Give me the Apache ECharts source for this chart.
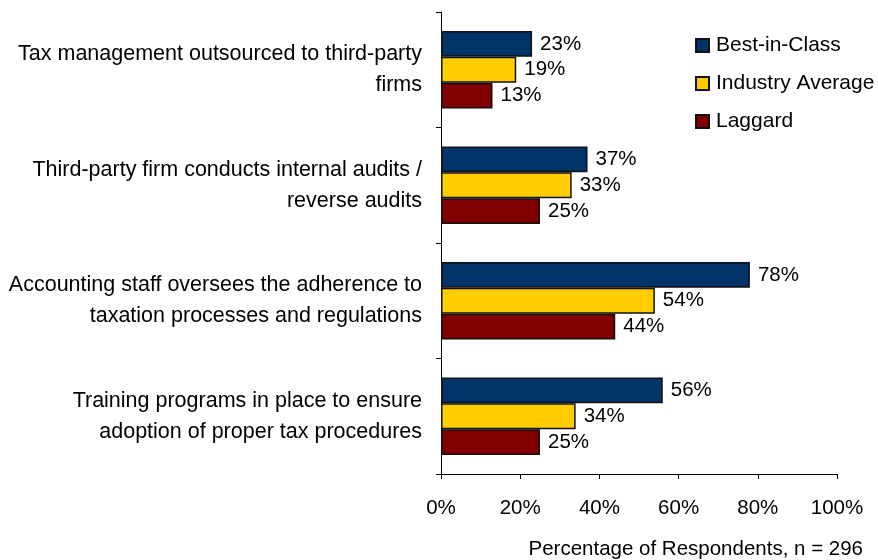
<!DOCTYPE html>
<html>
<head>
<meta charset="utf-8">
<script src="https://cdn.jsdelivr.net/npm/echarts@6/dist/echarts.min.js"></script>
<style>
  html, body { margin: 0; padding: 0; background: #fff; }
  #chart { width: 878px; height: 560px; }
</style>
</head>
<body>
<div id="chart"></div>
<script>
const categories = [
  'Tax management outsourced to third-party\nfirms',
  'Third-party firm conducts internal audits /\nreverse audits',
  'Accounting staff oversees the adherence to\ntaxation processes and regulations',
  'Training programs in place to ensure\nadoption of proper tax procedures'
];
const bestInClass = [23, 37, 78, 56];
const industryAverage = [19, 33, 54, 34];
const laggard = [13, 25, 44, 25];
const xTicks = [0, 20, 40, 60, 80, 100];
const xAxisTitle = 'Percentage of Respondents, n = 296';

const FONT = 'Liberation Sans, Arial, sans-serif';

function barSeries(name, data, color) {
  return {
    name: name,
    type: 'bar',
    data: data,
    barGap: '0%',
    barCategoryGap: '33%',
    itemStyle: { color: color, borderColor: '#111', borderWidth: 1.5 },
    label: {
      show: true,
      position: 'right',
      distance: 8,
      formatter: '{c}%',
      color: '#000',
      fontFamily: FONT,
      fontSize: 20.5
    }
  };
}

const chart = echarts.init(document.getElementById('chart'), null, { renderer: 'canvas' });
chart.setOption({
  animation: false,
  backgroundColor: '#fff',
  textStyle: { fontFamily: FONT },
  grid: { left: 441, right: 41, top: 12, bottom: 86, containLabel: false },
  legend: {
    orient: 'vertical',
    left: 695,
    top: 35,
    padding: 0,
    itemGap: 17,
    itemWidth: 13,
    itemHeight: 13,
    icon: 'rect',
    textStyle: { fontFamily: FONT, fontSize: 21, color: '#000', padding: [0, 0, 0, 2] },
    data: ['Best-in-Class', 'Industry Average', 'Laggard']
  },
  graphic: [{
    type: 'text',
    right: 15,
    top: 539,
    style: { text: xAxisTitle, font: '20.5px ' + FONT, fill: '#000' }
  }],
  xAxis: {
    type: 'value',
    min: xTicks[0],
    max: xTicks[xTicks.length - 1],
    interval: 20,
    axisLine: { show: true, lineStyle: { color: '#000', width: 1 } },
    axisTick: { show: true, length: 5, lineStyle: { color: '#000' } },
    axisLabel: { formatter: '{value}%', color: '#000', fontFamily: FONT, fontSize: 20.5, margin: 24 },
    splitLine: { show: false }
  },
  yAxis: {
    type: 'category',
    inverse: true,
    data: categories,
    axisLine: { show: true, lineStyle: { color: '#000', width: 1 } },
    axisTick: { show: true, length: 5, interval: 0, lineStyle: { color: '#000' } },
    axisLabel: {
      color: '#000', fontFamily: FONT, fontSize: 21.5, lineHeight: 31,
      margin: 19, align: 'right'
    }
  },
  series: [
    barSeries('Best-in-Class', bestInClass, '#003366'),
    barSeries('Industry Average', industryAverage, '#FFCC00'),
    barSeries('Laggard', laggard, '#800000')
  ]
});
</script>
</body>
</html>
